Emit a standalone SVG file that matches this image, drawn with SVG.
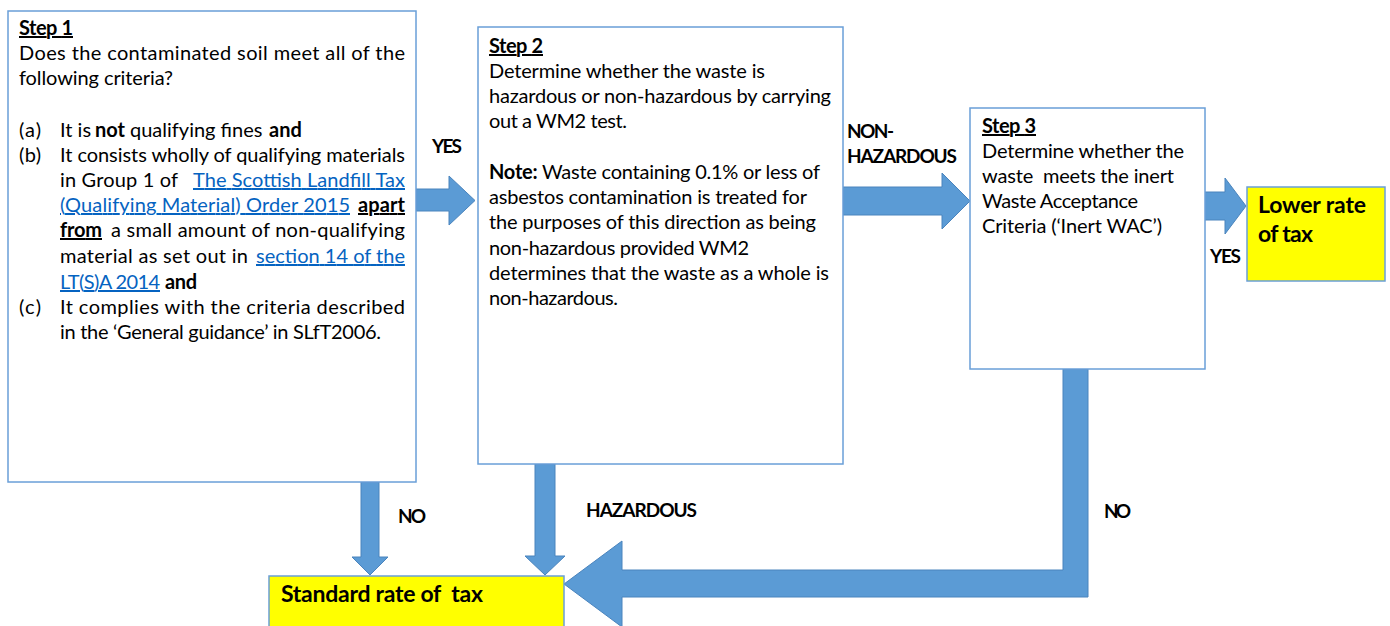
<svg xmlns="http://www.w3.org/2000/svg" width="1390" height="626" viewBox="0 0 1390 626">
<style>
.box{fill:#fff;stroke:#6A9FD8;stroke-width:1.5}
.yel{fill:#FFFF00;stroke:#6A9FD8;stroke-width:1.5}
.arr{fill:#5B9BD5;stroke:#4A84BD;stroke-width:1}
text{font-family:Lato,"Liberation Sans",sans-serif;font-size:20px;fill:#000}
.b{font-weight:bold}
.u{text-decoration:underline}
.lk{fill:#0563C1;text-decoration:underline}
.lbl{font-weight:bold;font-size:19px}
.big{font-weight:bold;font-size:23px}
.pre{white-space:pre}
</style>
<g id="connectors">
<polygon class="arr" points="416,189 449,189 449,176 475,200.5 449,225 449,211 416,211"/>
<polygon class="arr" points="843,187 942,187 942,173 970,201 942,229 942,215 843,215"/>
<polygon class="arr" points="1204,192 1225,192 1225,178 1246,206 1225,234 1225,220 1204,220"/>
<polygon class="arr" points="361,482 379,482 379,557 388,557 370,575 352,557 361,557"/>
<polygon class="arr" points="535,464 555,464 555,556 565,556 545,575 525,556 535,556"/>
<polygon class="arr" points="1063,369 1088,369 1088,597 622,597 622,627 564,584 622,541 622,570 1063,570"/>
<text class="lbl" x="432" y="153" textLength="30">YES</text>
<text class="lbl" x="847" y="138" textLength="47">NON-</text>
<text class="lbl" x="847" y="163" textLength="110">HAZARDOUS</text>
<text class="lbl" x="1210" y="263" textLength="31">YES</text>
<text class="lbl" x="398" y="523" textLength="28">NO</text>
<text class="lbl" x="586" y="517" textLength="111">HAZARDOUS</text>
<text class="lbl" x="1104" y="518" textLength="27">NO</text>
</g>
<g id="step1">
<rect class="box" x="8" y="11" width="408" height="471"/>
<text class="b u" x="19" y="35" textLength="54">Step 1</text>
<text x="19" y="60" textLength="386">Does the contaminated soil meet all of the</text>
<text x="19" y="85" textLength="154">following criteria?</text>
<text x="19" y="137" textLength="22">(a)</text>
<text x="60" y="137">It is <tspan class="b" x="95">not</tspan><tspan x="130">qualifying fines</tspan><tspan class="b" x="269">and</tspan></text>
<text x="19" y="162" textLength="22">(b)</text>
<text x="60" y="162" textLength="345">It consists wholly of qualifying materials</text>
<text x="60" y="187" textLength="118">in Group 1 of</text>
<text class="lk" x="193" y="187" textLength="212">The Scottish Landfill Tax</text>
<text class="lk" x="60" y="212" textLength="290">(Qualifying Material) Order 2015</text>
<text class="b u" x="358" y="212" textLength="47">apart</text>
<text class="b u" x="60" y="237" textLength="42">from</text>
<text x="111" y="237" textLength="294">a small amount of non-qualifying</text>
<text x="60" y="263" textLength="188">material as set out in</text>
<text class="lk" x="256" y="263" textLength="149">section 14 of the</text>
<text class="lk" x="60" y="289" textLength="100">LT(S)A 2014</text>
<text class="b" x="165" y="289" textLength="32">and</text>
<text x="19" y="314" textLength="22">(c)</text>
<text x="60" y="314" textLength="345">It complies with the criteria described</text>
<text x="60" y="339" textLength="321">in the ‘General guidance’ in SLfT2006.</text>
</g>
<g id="step2">
<rect class="box" x="478" y="27" width="365" height="437"/>
<text class="b u" x="489" y="53" textLength="54">Step 2</text>
<text x="489" y="78" textLength="276">Determine whether the waste is</text>
<text x="489" y="103" textLength="342">hazardous or non-hazardous by carrying</text>
<text x="489" y="128" textLength="138">out a WM2 test.</text>
<text x="489" y="179" textLength="331"><tspan class="b">Note:</tspan> Waste containing 0.1% or less of</text>
<text x="489" y="204" textLength="318">asbestos contamination is treated for</text>
<text x="489" y="229" textLength="327">the purposes of this direction as being</text>
<text x="489" y="255" textLength="260">non-hazardous provided WM2</text>
<text x="489" y="280" textLength="340">determines that the waste as a whole is</text>
<text x="489" y="305" textLength="129">non-hazardous.</text>
</g>
<g id="step3">
<rect class="box" x="970" y="108" width="235" height="261"/>
<text class="b u" x="982" y="133" textLength="54">Step 3</text>
<text x="982" y="158" textLength="202">Determine whether the</text>
<text class="pre" x="982" y="183" textLength="192">waste  meets the inert</text>
<text x="982" y="208" textLength="156">Waste Acceptance</text>
<text x="982" y="233" textLength="180">Criteria (‘Inert WAC’)</text>
</g>
<g id="lower">
<rect class="yel" x="1247" y="187" width="138" height="94"/>
<text class="big" x="1258" y="213" textLength="108">Lower rate</text>
<text class="big" x="1258" y="242" textLength="55">of tax</text>
</g>
<g id="standard">
<rect class="yel" x="269" y="576" width="295" height="60"/>
<text class="big pre" x="281" y="602" textLength="202">Standard rate of  tax</text>
</g>
</svg>
